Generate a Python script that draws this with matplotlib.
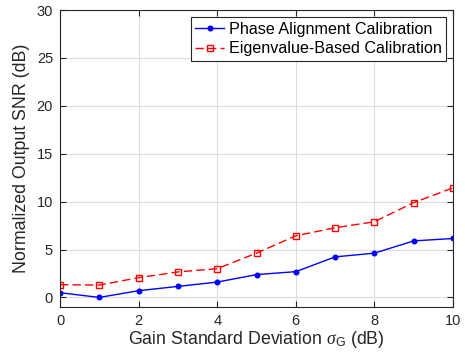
import numpy as np
import matplotlib.pyplot as plt

plt.rcParams['font.family'] = ['Liberation Sans', 'DejaVu Sans']
plt.rcParams['mathtext.fontset'] = 'custom'
plt.rcParams['mathtext.it'] = 'Liberation Serif:italic'
plt.rcParams['mathtext.rm'] = 'Liberation Sans'

# Gain standard deviation (dB)
sigma_g = [0, 1, 2, 3, 4, 5, 6, 7, 8, 9, 10]

# Normalized output SNR (dB) for each calibration method
phase_align = [0.49, 0.0, 0.7, 1.15, 1.6, 2.38, 2.69, 4.23, 4.62, 5.9, 6.15]
eigen_based = [1.33, 1.29, 2.06, 2.66, 3.0, 4.62, 6.43, 7.27, 7.9, 9.9, 11.43]

fig = plt.figure(figsize=(4.65, 3.6), dpi=100)
ax = fig.add_axes([60 / 465, 1 - 307 / 360, 393 / 465, 297 / 360])

axis_col = '#262626'

ax.plot(sigma_g, phase_align, '-', color='#0000ff', linewidth=1.0,
        marker='o', markersize=3.3, markerfacecolor='#0000ff',
        markeredgecolor='#0000ff', label='Phase Alignment Calibration')
ax.plot(sigma_g, eigen_based, '--', color='#ff0000', linewidth=1.0,
        dashes=(6, 3), marker='s', markersize=4.2, markerfacecolor='none',
        markeredgecolor='#ff0000', markeredgewidth=1.0,
        label='Eigenvalue-Based Calibration')

ax.set_xlim(0, 10)
ax.set_ylim(-1, 30)
ax.set_xticks(range(0, 11, 2))
ax.set_yticks(range(0, 31, 5))

ax.grid(True, color='#dcdcdc', linewidth=0.8)
ax.set_axisbelow(True)
ax.tick_params(direction='in', length=4, width=0.8, colors=axis_col,
               labelsize=10.5, top=True, right=True, pad=5)
for s in ax.spines.values():
    s.set_color(axis_col)
    s.set_linewidth(0.8)

ax.set_xlabel(r'Gain Standard Deviation $\sigma_{\mathrm{G}}$ (dB)', fontsize=12.8,
              color=axis_col, labelpad=1)
ax.set_ylabel('Normalized Output SNR (dB)', fontsize=12.8, color=axis_col,
              labelpad=5)

leg = ax.legend(loc='upper right', fontsize=11.6, fancybox=False,
                framealpha=1, edgecolor=axis_col, borderaxespad=0.42,
                handlelength=1.8, handletextpad=0.25, borderpad=0.3,
                labelspacing=0.3)
leg.get_frame().set_linewidth(0.8)

fig.savefig('out.png', dpi=100)
